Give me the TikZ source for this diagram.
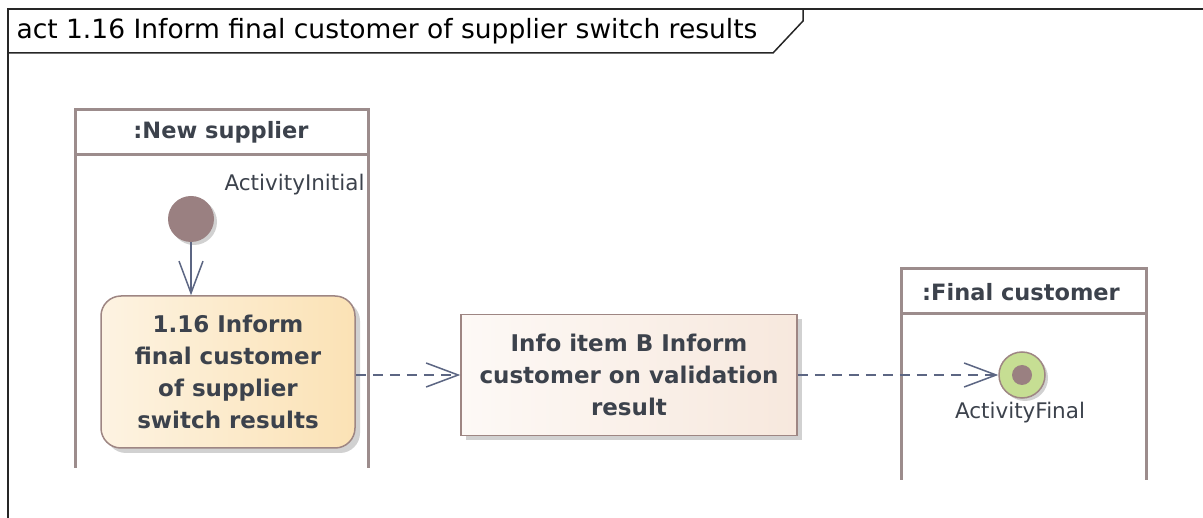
\documentclass[tikz,border=0pt]{standalone}
\usepackage{fontspec}
\setmainfont{DejaVu Sans}
\usetikzlibrary{arrows.meta,positioning,shadows}
\definecolor{lanegray}{HTML}{9C8C8C}
\definecolor{boxedge}{HTML}{9E8683}
\definecolor{textgray}{HTML}{3C424C}
\definecolor{flowblue}{HTML}{5C6683}
\definecolor{startfill}{HTML}{9A8081}
\definecolor{endfill}{HTML}{C6DE93}
\tikzset{font=\fontsize{16}{19}\selectfont}
\tikzstyle{lane}=[draw=lanegray,line width=3pt]
\tikzstyle{lanehead}=[text=textgray,font=\bfseries\fontsize{22.5}{26}\selectfont]
\tikzstyle{nodelabel}=[text=textgray,font=\fontsize{21.5}{25}\selectfont]
\tikzstyle{action}=[rectangle,rounded corners=20pt,draw=boxedge,line width=1.5pt,
  left color={rgb,255:red,253;green,243;blue,226},right color={rgb,255:red,251;green,226;blue,181},
  minimum width=254pt,minimum height=152pt,align=center,text=textgray,
  font=\bfseries\fontsize{23}{32}\selectfont,
  drop shadow={shadow xshift=5pt,shadow yshift=-5pt,fill=black!30,opacity=0.6}]
\tikzstyle{infobox}=[rectangle,draw=boxedge,line width=1.5pt,
  left color={rgb,255:red,253;green,249;blue,246},right color={rgb,255:red,247;green,232;blue,221},
  minimum width=336pt,minimum height=121pt,align=center,text=textgray,
  font=\bfseries\fontsize{23}{32}\selectfont,
  drop shadow={shadow xshift=5pt,shadow yshift=-5pt,fill=black!30,opacity=0.6}]
\tikzstyle{initial}=[circle,fill=startfill,minimum size=46pt,inner sep=0pt,
  drop shadow={shadow xshift=3pt,shadow yshift=-3pt,fill=black!30,opacity=0.6}]
\tikzstyle{final}=[circle,draw=boxedge,line width=1.5pt,fill=endfill,minimum size=46pt,inner sep=0pt,
  path picture={\fill[startfill] (path picture bounding box.center) circle (10pt);},
  drop shadow={shadow xshift=3pt,shadow yshift=-3pt,fill=black!30,opacity=0.6}]
\tikzstyle{flow}=[draw=flowblue,line width=1.5pt,-{Straight Barb[length=32pt,width=24pt]}]
\tikzstyle{objflow}=[flow,dash pattern=on 10pt off 7pt]

\begin{document}
\begin{tikzpicture}[x=1pt,y=-1pt]
\useasboundingbox (0,0) rectangle (1203,518);
% frame and name tab
\draw[line width=2pt,black!85] (8,518) -- (8,9) -- (1203,9);
\draw[line width=1.5pt,black!85] (8,53) -- (773,53) -- (803,21) -- (803,9);
\node[anchor=west,font=\fontsize{26.5}{30}\selectfont] (title) at (13,31) {act 1.16 Inform final customer of supplier switch results};
% partitions
\draw[lane] (75,468) -- (75,110) -- (368,110) -- (368,468);
\draw[lane] (75,155) -- (368,155);
\node[lanehead] (supplier) at (221,132) {:New supplier};
\draw[lane] (901,480) -- (901,269) -- (1146,269) -- (1146,480);
\draw[lane] (901,314) -- (1146,314);
\node[lanehead] (customer) at (1021,292) {:Final customer};
% nodes
\node[initial] (start) at (191,219) {};
\node[nodelabel,anchor=east] (startlbl) at (368,185) {ActivityInitial};
\node[action] (act) at (228,372) {1.16 Inform\\final customer\\of supplier\\switch results};
\node[infobox] (info) at (629,375) {Info item B Inform\\customer on validation\\result};
\node[final] (end) at (1022,375) {};
\node[nodelabel] (endlbl) at (1020,413) {ActivityFinal};
% flows
\path (start) edge[flow] (start |- act.north);
\path (act.east |- info.west) edge[objflow] (info.west)
(info) edge[objflow] (end);
\end{tikzpicture}
\end{document}
